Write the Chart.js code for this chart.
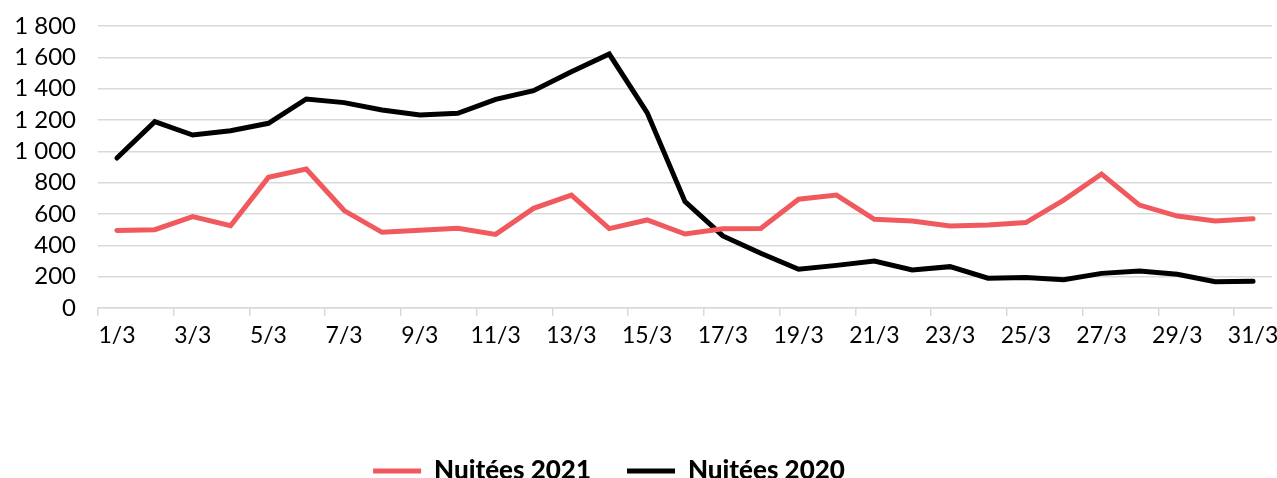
<!DOCTYPE html>
<html>
<head>
<meta charset="utf-8">
<script src="https://cdn.jsdelivr.net/npm/chart.js@4"></script>
<style>
    html, body { margin: 0; padding: 0; background: #fff; }
    #wrap { width: 1277px; height: 478px; }
</style>
</head>
<body>
<div id="wrap"><canvas id="nuiteesChart"></canvas></div>
<script>
// Nuitées par jour, mars 2020 vs mars 2021

const days = [];
for (let d = 1; d <= 31; d++) days.push(d + '/3');

const nuitees2021 = [495, 500, 583, 525, 834, 887, 622, 483, 497, 509, 470, 636, 721, 507, 562, 472,
    506, 508, 694, 721, 566, 555, 523, 530, 545, 689, 855, 657, 587, 555, 570];
const nuitees2020 = [957, 1189, 1104, 1132, 1179, 1334, 1311, 1264, 1232, 1243, 1332, 1387, 1508, 1621, 1247, 679,
    460, 349, 247, 272, 300, 243, 264, 190, 194, 181, 221, 236, 215, 168, 170];

const yTicks = { min: 0, max: 1800, step: 200 };

const gridColor = '#d9d9d9';
const fontFamily = 'Lato, "DejaVu Sans", sans-serif';

function formatThousands(v) {
    return String(v).replace(/\B(?=(\d{3})+(?!\d))/g, ' ');
}

// the legend in the original sits a bit left of centre and lower
const legendShift = {
    id: 'legendShift',
    afterLayout(chart) {
        const l = chart.legend;
        if (!l) return;
        l.right -= 64;
        l.width -= 64;
        l.top += 18;
        l.bottom += 18;
    }
};

const ctx = document.getElementById('nuiteesChart').getContext('2d');

new Chart(ctx, {
    type: 'line',
    data: {
        labels: days,
        datasets: [
            {
                label: 'Nuitées 2021',
                data: nuitees2021,
                borderColor: '#f05a5e',
                backgroundColor: '#f05a5e',
                borderWidth: 5,
                borderCapStyle: 'round',
                pointRadius: 0,
                tension: 0
            },
            {
                label: 'Nuitées 2020',
                data: nuitees2020,
                borderColor: '#000000',
                backgroundColor: '#000000',
                borderWidth: 5,
                borderCapStyle: 'round',
                pointRadius: 0,
                tension: 0
            }
        ]
    },
    plugins: [legendShift],
    options: {
        responsive: true,
        maintainAspectRatio: false,
        animation: false,
        layout: {
            padding: { top: 26, right: 5, left: 10, bottom: 2 }
        },
        plugins: {
            tooltip: { enabled: false },
            legend: {
                position: 'bottom',
                labels: {
                    usePointStyle: true,
                    pointStyleWidth: 48,
                    pointStyle: 'line',
                    boxHeight: 5,
                    padding: 36,
                    color: '#000',
                    font: { family: fontFamily, size: 26, weight: '900' }
                }
            }
        },
        scales: {
            x: {
                offset: true,
                border: { display: true, color: gridColor, width: 1.5 },
                grid: {
                    offset: true,
                    drawOnChartArea: false,
                    tickLength: 8,
                    lineWidth: 1.5,
                    color: c => (c.index % 2 === 0 ? gridColor : 'rgba(0,0,0,0)')
                },
                ticks: {
                    autoSkip: false,
                    maxRotation: 0,
                    padding: 6,
                    color: '#000',
                    font: { family: fontFamily, size: 23 },
                    callback: function (value, index) {
                        return index % 2 === 0 ? this.getLabelForValue(value) : '';
                    }
                },
                afterFit: scale => {
                    scale.height = 96;
                    scale.paddingLeft = 0;
                    scale.paddingRight = 0;
                }
            },
            y: {
                min: yTicks.min,
                max: yTicks.max,
                border: { display: false },
                grid: { color: gridColor, lineWidth: 1.5, drawTicks: false },
                ticks: {
                    autoSkip: false,
                    stepSize: yTicks.step,
                    padding: 22,
                    color: '#000',
                    font: { family: fontFamily, size: 24 },
                    callback: v => formatThousands(v)
                },
                afterFit: scale => {
                    scale.width = 88;
                    scale.paddingTop = 0;
                    scale.paddingBottom = 0;
                }
            }
        }
    }
});
</script>
</body>
</html>
